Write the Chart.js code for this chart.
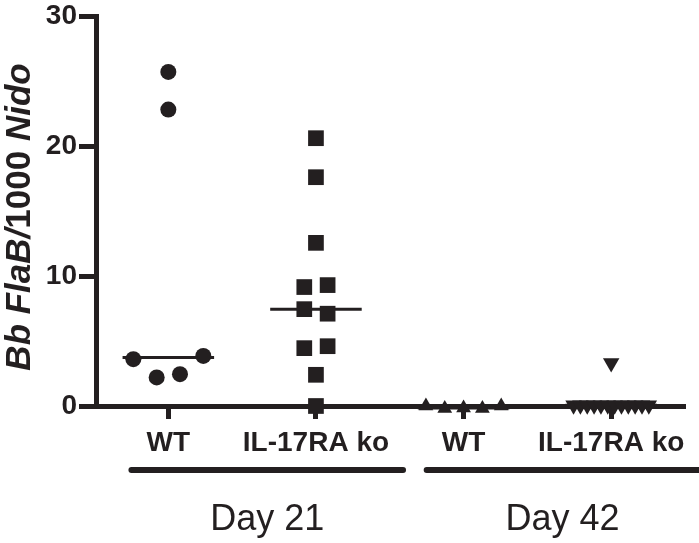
<!DOCTYPE html>
<html><head><meta charset="utf-8">
<script src="https://cdn.jsdelivr.net/npm/chart.js@4/dist/chart.umd.min.js"></script>
<style>html,body{margin:0;padding:0;background:#fff;overflow:hidden}#wrap{width:699px;height:543px;position:relative}</style>
</head><body><div id="wrap"><canvas id="c"></canvas></div>
<script>
// ---- data ----
const categories = ['WT', 'IL-17RA ko', 'WT', 'IL-17RA ko'];
const groupLabels = ['Day 21', 'Day 42'];
const groupMembers = [[0, 1], [2, 3]];
const yTicks = [0, 10, 20, 30];
const yTitleParts = [['Bb FlaB/', true], ['1000 ', false], ['Nido', true]];
const wtDay21 = [25.7, 22.8, 3.6, 2.2, 2.45, 3.85];
const koDay21 = [20.6, 17.6, 12.55, 9.15, 9.3, 7.45, 7.1, 4.45, 4.6, 2.4, 0.0];
const wtDay42 = [0.0, -0.2, -0.15, -0.2, 0.0];
const koDay42 = [3.3, 0.05, 0.05, 0.05, 0.05, 0.05, 0.05, 0.05, 0.05, 0.05, 0.05, 0.05, 0.05];

// ---- style ----
const INK = '#231f20';
const FONT = '"Liberation Sans", Arial, Helvetica, sans-serif';

// scatter spreading (column scatter like GraphPad): points of similar value are set side by side
function spread(values, center, maxStep, maxSpan, gapTol) {
  const idx = values.map((v, i) => i).sort((a, b) => values[a] - values[b]);
  const clusters = []; let cur = [idx[0]];
  for (let k = 1; k < idx.length; k++) {
    if (values[idx[k]] - values[idx[k - 1]] < gapTol) cur.push(idx[k]);
    else { clusters.push(cur); cur = [idx[k]]; }
  }
  clusters.push(cur);
  const xs = new Array(values.length);
  clusters.forEach(cl => {
    cl.sort((a, b) => a - b);
    const n = cl.length;
    const step = n > 1 ? Math.min(maxStep, maxSpan / (n - 1)) : 0;
    cl.forEach((i, j) => { xs[i] = center + (j - (n - 1) / 2) * step; });
  });
  return values.map((v, i) => ({ x: xs[i], y: v }));
}
function median(arr) {
  const s = [...arr].sort((a, b) => a - b); const m = Math.floor(s.length / 2);
  return s.length % 2 ? s[m] : (s[m - 1] + s[m]) / 2;
}

const groups = [
  { vals: wtDay21, style: 'circle', r: 8, rot: 0 },
  { vals: koDay21, style: 'rect', r: 11.1, rot: 0 },
  { vals: wtDay42, style: 'triangle', r: 8.5, rot: 0 },
  { vals: koDay42, style: 'triangle', r: 9.5, rot: 180 },
];
const datasets = [];
groups.forEach((g, i) => {
  const c = i + 1;
  const med = median(g.vals);
  datasets.push({
    type: 'line', data: [{ x: c - 0.31, y: med }, { x: c + 0.31, y: med }],
    borderColor: INK, borderWidth: 3, pointRadius: 0, showLine: true, clip: false, order: 2
  });
  datasets.push({
    type: 'scatter', data: spread(g.vals, c, 0.158, 0.51, 1.25),
    pointStyle: g.style, pointRadius: g.r, pointRotation: g.rot,
    backgroundColor: INK, borderColor: INK, borderWidth: 0, clip: false, order: 1
  });
});

const decor = {
  id: 'decor',
  afterDraw(chart) {
    const ctx = chart.ctx, xs = chart.scales.x;
    ctx.save();
    ctx.fillStyle = INK; ctx.strokeStyle = INK;
    // group brackets
    groupMembers.forEach((m, gi) => {
      const center = (m[0] + m[m.length - 1]) / 2 + 1 + 0.17;
      const x0 = xs.getPixelForValue(center - 0.92), x1 = xs.getPixelForValue(center + 0.92);
      ctx.lineWidth = 6; ctx.lineCap = 'round';
      ctx.beginPath(); ctx.moveTo(x0, 470); ctx.lineTo(x1, 470); ctx.stroke();
      ctx.font = '36px ' + FONT; ctx.textAlign = 'center'; ctx.textBaseline = 'alphabetic';
      ctx.fillText(groupLabels[gi], xs.getPixelForValue(center), 530);
    });
    // y title (mixed italic)
    ctx.translate(30, 217); ctx.rotate(-Math.PI / 2);
    ctx.textAlign = 'left'; ctx.textBaseline = 'alphabetic';
    let total = 0;
    const fonts = yTitleParts.map(p => (p[1] ? 'italic ' : '') + 'bold 35px ' + FONT);
    yTitleParts.forEach((p, i) => { ctx.font = fonts[i]; total += ctx.measureText(p[0]).width; });
    let x = -total / 2;
    yTitleParts.forEach((p, i) => { ctx.font = fonts[i]; ctx.fillText(p[0], x, 0); x += ctx.measureText(p[0]).width; });
    ctx.restore();
  }
};

new Chart(document.getElementById('c'), {
  type: 'scatter',
  data: { datasets },
  options: {
    responsive: true, maintainAspectRatio: false, animation: false,
    layout: { padding: { left: 0, right: 14, top: 15, bottom: 0 } },
    plugins: { legend: { display: false }, tooltip: { enabled: false } },
    scales: {
      x: {
        type: 'linear', min: 0.51, max: 4.5,
        afterBuildTicks: s => { s.ticks = categories.map((c, i) => ({ value: i + 1 })); },
        afterFit: s => { s.height = 137; },
        ticks: {
          callback: (v) => categories[Math.round(v) - 1] || '',
          font: { family: FONT, size: 28, weight: 'bold' }, color: INK, padding: 7, maxRotation: 0, autoSkip: false
        },
        grid: { drawOnChartArea: false, tickLength: 13, tickWidth: 5, tickColor: INK },
        border: { color: INK, width: 5 }
      },
      y: {
        min: 0, max: 30,
        afterBuildTicks: s => { s.ticks = yTicks.map(v => ({ value: v })); },
        afterFit: s => { s.width = 96; },
        ticks: { font: { family: FONT, size: 28, weight: 'bold', lineHeight: 1 }, color: INK, padding: 2 },
        grid: { drawOnChartArea: false, tickLength: 17, tickWidth: 5, tickColor: INK },
        border: { color: INK, width: 5 }
      }
    }
  },
  plugins: [decor]
});
</script></body></html>
